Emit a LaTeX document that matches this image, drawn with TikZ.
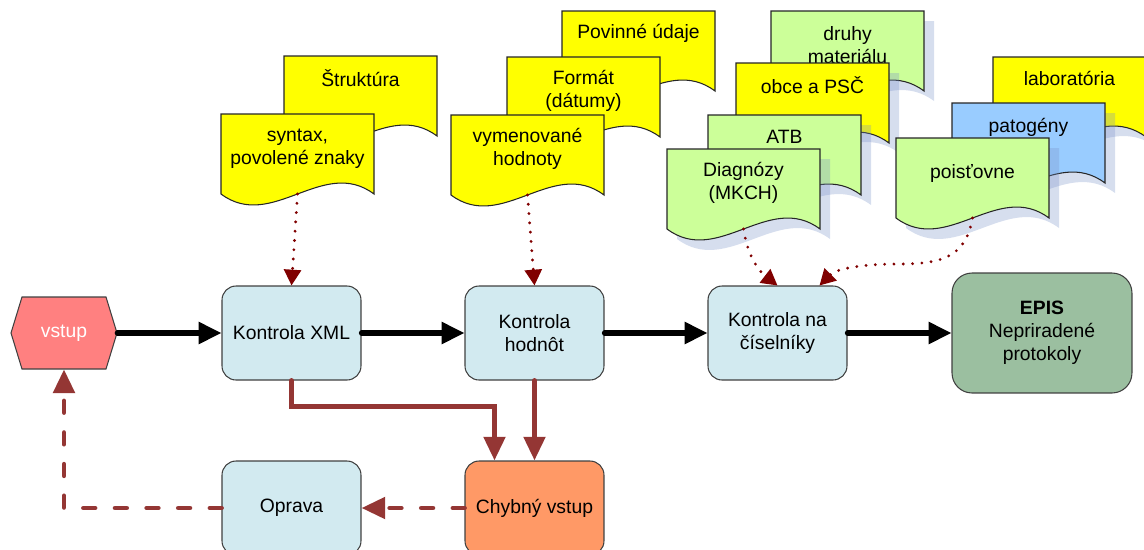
\documentclass[tikz,border=0pt]{standalone}
\usepackage{fontspec}
\setmainfont{Liberation Sans}
\usetikzlibrary{arrows.meta,calc}
\definecolor{docyellow}{RGB}{255,255,0}
\definecolor{docgreen}{RGB}{204,255,153}
\definecolor{docblue}{RGB}{153,204,255}
\definecolor{shadowblue}{RGB}{120,145,200}
\definecolor{boxblue}{RGB}{210,234,240}
\definecolor{episgreen}{RGB}{155,191,160}
\definecolor{errorange}{RGB}{255,153,102}
\definecolor{vstupred}{RGB}{255,128,128}
\definecolor{flowbrown}{RGB}{148,54,52}
\definecolor{dotred}{RGB}{128,0,0}
\def\docshape[#1](#2,#3){\draw[#1] (#2,#3) -- (#2+153,#3) -- (#2+153,#3+80) .. controls (#2+102,#3+42) and (#2+51,#3+118) .. (#2,#3+80) -- cycle;}
\def\sdocshape[#1](#2,#3){\docshape[docshadow](#2+10,#3+10)\docshape[#1](#2,#3)}
\tikzset{
	doc/.style={draw=black!85, line width=0.6pt},
	docshadow/.style={fill=shadowblue, fill opacity=0.3, draw=none},
	txt/.style={align=center, font=\fontsize{11}{13}\selectfont},
	check/.style={txt, draw=black!75, line width=0.6pt, fill=boxblue, rounded corners=0.28cm, minimum width=2.78cm, minimum height=1.88cm},
	flow/.style={line width=3pt, line cap=round, -{Triangle[length=13pt,width=12pt]}},
	fail/.style={draw=flowbrown, line width=2.8pt, line cap=round, -{Triangle[length=13.5pt,width=12pt]}},
	back/.style={fail, dash pattern=on 6.5pt off 11.5pt},
	lookup/.style={draw=dotred, line width=1.8pt, line cap=round, dash pattern=on 0pt off 5.3pt, -{Triangle[length=9pt,width=9.6pt]}}
}
\begin{document}
\begin{tikzpicture}[x=0.02cm, y=-0.02cm]
				%%%%% START %%%%%
				\useasboundingbox (0,0) rectangle (1144,549);

				% syntax
				\docshape[doc, fill=docyellow](284,56)
				\node[txt] (strukt) at (284+76.5,56+22) {Štruktúra};
				\docshape[doc, fill=docyellow](221,114)
				\node[txt] (syntax) at (221+76.5,114+35) {syntax,\\povolené znaky};
				\coordinate (syntax-b) at (221+76.5,114+80);

				% hodnoty
				\docshape[doc, fill=docyellow](562,11)
				\node[txt] (povinne) at (562+76.5,11+22) {Povinné údaje};
				\docshape[doc, fill=docyellow](507,57)
				\node[txt] (format) at (507+76.5,57+34) {Formát\\(dátumy)};
				\docshape[doc, fill=docyellow](451,115)
				\node[txt] (vymen) at (451+76.5,115+34) {vymenované\\hodnoty};
				\coordinate (vymen-b) at (451+76.5,115+80);

				% ciselniky
				\sdocshape[doc, fill=docgreen](771,11)
				\node[txt] (druhy) at (771+76.5,11+34) {druhy\\materiálu};
				\sdocshape[doc, fill=docyellow](736,63)
				\node[txt] (obce) at (736+76.5,63+22) {obce a PSČ};
				\sdocshape[doc, fill=docgreen](708,115)
				\node[txt] (atb) at (708+76.5,115+22) {ATB};
				\sdocshape[doc, fill=docgreen](667,149)
				\node[txt] (diag) at (667+76.5,149+34) {Diagnózy\\(MKCH)};
				\coordinate (diag-b) at (667+76.5,149+80);

				\sdocshape[doc, fill=docyellow](993,57)
				\node[txt] (lab) at (993+76.5,57+21) {laboratória};
				\sdocshape[doc, fill=docblue](952,103)
				\node[txt] (patog) at (952+76.5,103+24) {patogény};
				\sdocshape[doc, fill=docgreen](896,138)
				\node[txt] (poist) at (896+76.5,138+35) {poisťovne};
				\coordinate (poist-b) at (896+76.5,138+80);

				% boxes
				\draw[fill=vstupred, draw=black!75, line width=0.6pt] (11,333) -- (22,297) -- (106,297) -- (117,333) -- (106,369) -- (22,369) -- cycle;
				\node[txt, text=white, inner sep=0pt, minimum width=2.12cm, minimum height=1.44cm] (vstup) at (64,333) {vstup};
				\node[check] (xml) at (291.5,333) {Kontrola XML};
				\node[check] (hodn) at (534.5,333) {Kontrola\\hodnôt};
				\node[check] (cis) at (777.5,333) {Kontrola na\\číselníky};
				\node[check, fill=episgreen, minimum width=3.6cm, minimum height=2.4cm, rounded corners=0.4cm] (epis) at (1042,333) {\textbf{EPIS}\\Nepriradené\\protokoly};
				\node[check] (oprava) at (291.5,508) {Oprava};
				\node[check, fill=errorange] (chyb) at (534.5,508) {Chybný vstup};

				\draw[flow] (vstup.east) -- (xml.west);
				\draw[flow] (xml.east) -- (hodn.west);
				\draw[flow] (hodn.east) -- (cis.west);
				\draw[flow] (cis.east) -- (epis.west);

				\draw[fail] (xml.south) -- ++(0,26) -| ($(chyb.north)+(-40,0)$);
				\draw[fail] (hodn.south) -- (chyb.north);
				\draw[back] (chyb.west) -- (oprava.east);
				\draw[back] (oprava.west) -| (vstup.south);

				\draw[lookup] (syntax-b) -- (xml.north);
				\draw[lookup] (vymen-b) -- (hodn.north);
				\draw[lookup] (diag-b) .. controls (748,258) and (760,272) .. (cis.north);
				\draw[lookup] (poist-b) .. controls (966,255) and (945,264) .. (900,264) .. controls (855,264) and (835,270) .. ($(cis.north)+(42,0)$);
				%%%%% START %%%%%
\end{tikzpicture}
\end{document}
